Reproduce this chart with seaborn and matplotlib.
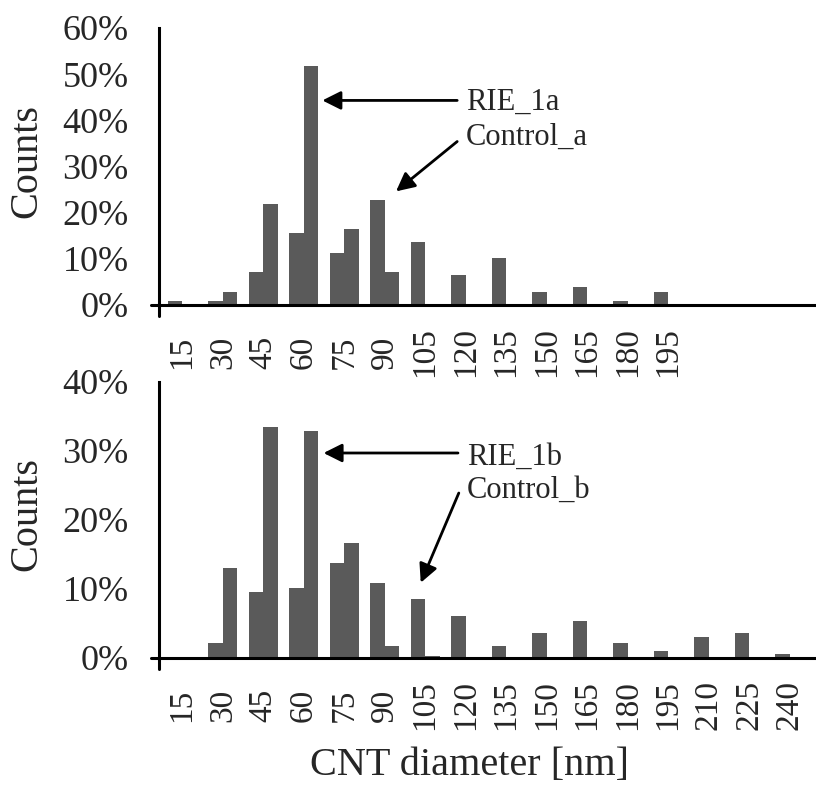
import matplotlib
matplotlib.use("Agg")
import numpy as np
import pandas as pd
import matplotlib.pyplot as plt
import seaborn as sns
from matplotlib.ticker import FuncFormatter

# values (percent of counts)
top_diam = ["15", "30", "45", "60", "75", "90", "105", "120", "135", "150", "165", "180", "195"]
top_control = [0.9, 0.9, 7.1, 15.5, 11.2, 22.7, 13.7, 6.4, 10.2, 2.9, 3.9, 0.9, 2.9]
top_rie = [0.0, 2.8, 21.8, 51.7, 16.5, 7.1, 0.0, 0.0, 0.0, 0.0, 0.0, 0.0, 0.0]

bot_diam = ["15", "30", "45", "60", "75", "90", "105", "120", "135", "150",
            "165", "180", "195", "210", "225", "240"]
bot_control = [0.0, 2.2, 9.5, 10.2, 13.7, 10.8, 8.6, 6.1, 1.7, 3.6, 5.3, 2.2, 1.0, 3.0, 3.6, 0.5]
bot_rie = [0.0, 13.1, 33.4, 32.9, 16.7, 1.7, 0.3, 0.0, 0.0, 0.0, 0.0, 0.0, 0.0, 0.0, 0.0, 0.0]

BAR = "#5a5a5a"

sns.set_style("white")
plt.rcParams["font.family"] = ["Liberation Serif", "DejaVu Serif"]


def long_df(diam, control, rie):
    return pd.DataFrame({
        "diameter": diam * 2,
        "sample": ["Control"] * len(diam) + ["RIE"] * len(diam),
        "pct": list(control) + list(rie),
    })


def draw_panel(ax, diam, control, rie, ymax, step):
    df = long_df(diam, control, rie)
    sns.barplot(data=df, x="diameter", y="pct", hue="sample", order=diam,
                hue_order=["Control", "RIE"], palette=[BAR, BAR], width=0.72,
                gap=0, saturation=1, errorbar=None, legend=False, ax=ax,
                linewidth=0)
    ax.set_xlim(-0.57, 15.65)
    ax.set_ylim(0, ymax)
    ax.set_yticks(np.arange(0, ymax + 0.1, step))
    ax.yaxis.set_major_formatter(FuncFormatter(lambda v, _: f"{v:.0f}%"))
    ax.tick_params(axis="y", length=0, pad=22, labelsize=26)
    ax.tick_params(axis="x", length=0, pad=34, labelsize=24)
    for lab in ax.get_xticklabels():
        lab.set_rotation(90)
        lab.set_va("center")
    for side in ["top", "right"]:
        ax.spines[side].set_visible(False)
    for side in ["left", "bottom"]:
        ax.spines[side].set_linewidth(2.2)
        ax.spines[side].set_color("black")
    # little cross at the origin
    ax.plot([0, 0], [0, -0.04], transform=ax.transAxes, clip_on=False, color="black", lw=2.2)
    ax.plot([-0.012, 0], [0, 0], transform=ax.transAxes, clip_on=False, color="black", lw=2.2)
    ax.set_xlabel("")
    ax.set_ylabel("Counts", fontsize=29)
    ax.yaxis.label.set_va("center")
    ax.yaxis.set_label_coords(-0.201, 0.52)


fig = plt.figure(figsize=(8.16, 7.87), dpi=100)
ax1 = fig.add_axes([0.195, 0.6125, 0.805, 0.352])
ax2 = fig.add_axes([0.195, 0.164, 0.805, 0.3507])

draw_panel(ax1, top_diam, top_control, top_rie, 60, 10)
draw_panel(ax2, bot_diam, bot_control, bot_rie, 40, 10)

arrow = dict(arrowstyle="-|>", color="black", lw=2, mutation_scale=28, shrinkA=0, shrinkB=0)

ax1.annotate("", xy=(3.46, 44.3), xytext=(6.79, 44.3), arrowprops=arrow)
ax1.text(7.01, 43.9, "RIE_1a", fontsize=22, va="center", ha="left")
ax1.annotate("", xy=(5.28, 24.6), xytext=(6.79, 35.4), arrowprops=arrow)
ax1.text(7.01, 36.3, "Control_a", fontsize=22, va="center", ha="left")

ax2.annotate("", xy=(3.49, 29.7), xytext=(6.81, 29.7), arrowprops=arrow)
ax2.text(7.03, 29.1, "RIE_1b", fontsize=22, va="center", ha="left")
ax2.annotate("", xy=(5.89, 10.9), xytext=(6.83, 23.9), arrowprops=arrow)
ax2.text(7.03, 24.3, "Control_b", fontsize=22, va="center", ha="left")

ax2.set_xlabel("CNT diameter [nm]", fontsize=29)
ax2.xaxis.label.set_va("center")
ax2.xaxis.set_label_coords(0.472, -0.388)

fig.savefig("out.png", dpi=100)
